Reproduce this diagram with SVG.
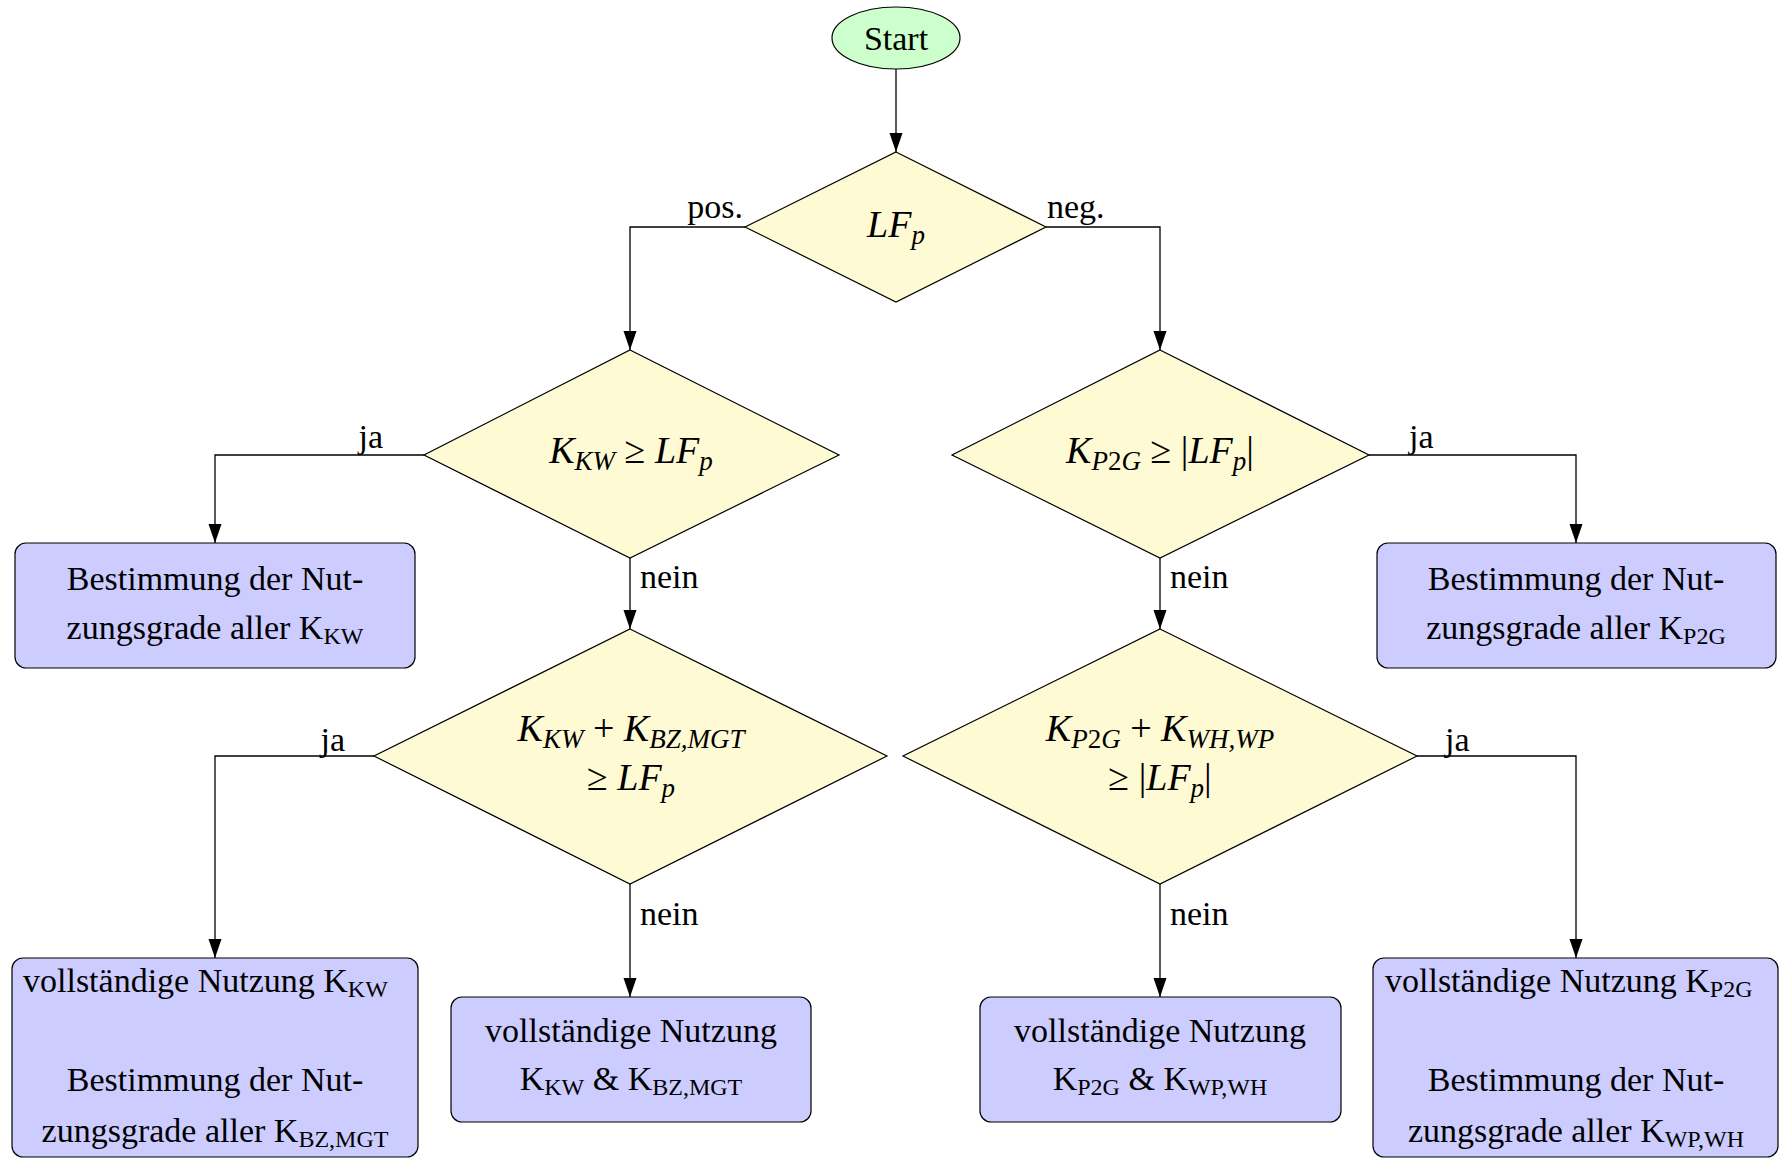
<svg xmlns="http://www.w3.org/2000/svg" width="1787" height="1159" viewBox="0 0 1787 1159">
  <defs>
    <marker id="arrow" markerUnits="userSpaceOnUse" markerWidth="20" markerHeight="14" refX="19" refY="6.5" orient="auto">
      <path d="M0,0 L19,6.5 L0,13 Z" fill="#000"/>
    </marker>
    <style>
      text { font-family: "Liberation Serif", "DejaVu Serif", serif; font-size: 34px; fill: #000; }
      .c { text-anchor: middle; }
      .e { text-anchor: end; }
      .math { font-size: 38px; }
      .m { font-style: italic; }
      .sub { font-size: 24px; }
      .msub { font-size: 27px; }
      .start { fill: #ccffcc; stroke: #000; stroke-width: 1.2; }
      .dec { fill: #fefad4; stroke: #000; stroke-width: 1.2; }
      .box { fill: #ccccff; stroke: #000; stroke-width: 1.2; }
      .edge { fill: none; stroke: #000; stroke-width: 1.3; marker-end: url(#arrow); }
    </style>
  </defs>
  <rect width="1787" height="1159" fill="#fff"/>

  <!-- connectors -->
  <g id="connectors">
    <path class="edge" d="M896,69 L896,152"/>
    <path class="edge" d="M745,227 L630,227 L630,350"/>
    <path class="edge" d="M1046,227 L1160,227 L1160,350"/>
    <path class="edge" d="M424,455 L215,455 L215,543"/>
    <path class="edge" d="M630,558 L630,629"/>
    <path class="edge" d="M1369,455 L1576,455 L1576,543"/>
    <path class="edge" d="M1160,558 L1160,629"/>
    <path class="edge" d="M374,756 L215,756 L215,958"/>
    <path class="edge" d="M630,884 L630,997"/>
    <path class="edge" d="M1417,756 L1576,756 L1576,958"/>
    <path class="edge" d="M1160,884 L1160,997"/>
    <text class="e" x="743" y="218">pos.</text>
    <text x="1047" y="218">neg.</text>
    <text class="e" x="383" y="448">ja</text>
    <text x="1409" y="448">ja</text>
    <text x="640" y="588">nein</text>
    <text x="1170" y="588">nein</text>
    <text class="e" x="345" y="751">ja</text>
    <text x="1445" y="751">ja</text>
    <text x="640" y="925">nein</text>
    <text x="1170" y="925">nein</text>
  </g>

  <!-- start -->
  <g id="start">
    <ellipse class="start" cx="896" cy="38" rx="64" ry="31"/>
    <text class="c" x="896" y="50">Start</text>
  </g>

  <!-- decision on load flow sign -->
  <g id="d-lf">
    <polygon class="dec" points="896,152 1046,227 896,302 745,227"/>
    <text class="c math m" x="896" y="237">LF<tspan class="msub" dy="7">p</tspan></text>
  </g>

  <!-- decision: power plant capacity -->
  <g id="d-kw">
    <polygon class="dec" points="630,350 839,455 630,558 424,455"/>
    <text class="c math" x="631" y="463"><tspan class="m">K</tspan><tspan class="msub m" dy="7">KW</tspan><tspan dy="-7"> ≥ </tspan><tspan class="m">LF</tspan><tspan class="msub m" dy="7">p</tspan></text>
  </g>

  <!-- decision: power-to-gas capacity -->
  <g id="d-p2g">
    <polygon class="dec" points="1160,350 1369,455 1160,558 952,455"/>
    <text class="c math" x="1160" y="463"><tspan class="m">K</tspan><tspan class="msub m" dy="7">P</tspan><tspan class="msub">2</tspan><tspan class="msub m">G</tspan><tspan dy="-7"> ≥ |</tspan><tspan class="m">LF</tspan><tspan class="msub m" dy="7">p</tspan><tspan dy="-7">|</tspan></text>
  </g>

  <!-- decision: power plants plus fuel cells / micro gas turbines -->
  <g id="d-kw-bz">
    <polygon class="dec" points="630,629 887,756 630,884 374,756"/>
    <text class="c math" x="631" y="741"><tspan class="m">K</tspan><tspan class="msub m" dy="7">KW</tspan><tspan dy="-7"> + </tspan><tspan class="m">K</tspan><tspan class="msub m" dy="7">BZ,MGT</tspan></text>
    <text class="c math" x="631" y="790">≥ <tspan class="m">LF</tspan><tspan class="msub m" dy="7">p</tspan></text>
  </g>

  <!-- decision: power-to-gas plus heat storage / heat pumps -->
  <g id="d-p2g-wh">
    <polygon class="dec" points="1160,629 1417,756 1160,884 903,756"/>
    <text class="c math" x="1160" y="741"><tspan class="m">K</tspan><tspan class="msub m" dy="7">P</tspan><tspan class="msub">2</tspan><tspan class="msub m">G</tspan><tspan dy="-7"> + </tspan><tspan class="m">K</tspan><tspan class="msub m" dy="7">WH,WP</tspan></text>
    <text class="c math" x="1160" y="790">≥ |<tspan class="m">LF</tspan><tspan class="msub m" dy="7">p</tspan><tspan dy="-7">|</tspan></text>
  </g>

  <!-- process boxes -->
  <g id="b-kw">
    <rect class="box" x="15" y="543" width="400" height="125" rx="11"/>
    <text class="c" x="215" y="590">Bestimmung der Nut-</text>
    <text class="c" x="215" y="639">zungsgrade aller K<tspan class="sub" dy="5">KW</tspan></text>
  </g>

  <g id="b-p2g">
    <rect class="box" x="1377" y="543" width="399" height="125" rx="11"/>
    <text class="c" x="1576" y="590">Bestimmung der Nut-</text>
    <text class="c" x="1576" y="639">zungsgrade aller K<tspan class="sub" dy="5">P2G</tspan></text>
  </g>

  <g id="b-kw-full">
    <rect class="box" x="12" y="958" width="406" height="199" rx="11"/>
    <text x="23" y="992">vollständige Nutzung K<tspan class="sub" dy="5">KW</tspan></text>
    <text class="c" x="215" y="1091">Bestimmung der Nut-</text>
    <text class="c" x="215" y="1142">zungsgrade aller K<tspan class="sub" dy="5">BZ,MGT</tspan></text>
  </g>

  <g id="b-kw-bz">
    <rect class="box" x="451" y="997" width="360" height="125" rx="11"/>
    <text class="c" x="631" y="1042">vollständige Nutzung</text>
    <text class="c" x="631" y="1090">K<tspan class="sub" dy="5">KW</tspan><tspan dy="-5"> &amp; K</tspan><tspan class="sub" dy="5">BZ,MGT</tspan></text>
  </g>

  <g id="b-p2g-wp">
    <rect class="box" x="980" y="997" width="361" height="125" rx="11"/>
    <text class="c" x="1160" y="1042">vollständige Nutzung</text>
    <text class="c" x="1160" y="1090">K<tspan class="sub" dy="5">P2G</tspan><tspan dy="-5"> &amp; K</tspan><tspan class="sub" dy="5">WP,WH</tspan></text>
  </g>

  <g id="b-p2g-full">
    <rect class="box" x="1373" y="958" width="405" height="199" rx="11"/>
    <text x="1385" y="992">vollständige Nutzung K<tspan class="sub" dy="5">P2G</tspan></text>
    <text class="c" x="1576" y="1091">Bestimmung der Nut-</text>
    <text class="c" x="1576" y="1142">zungsgrade aller K<tspan class="sub" dy="5">WP,WH</tspan></text>
  </g>
</svg>
